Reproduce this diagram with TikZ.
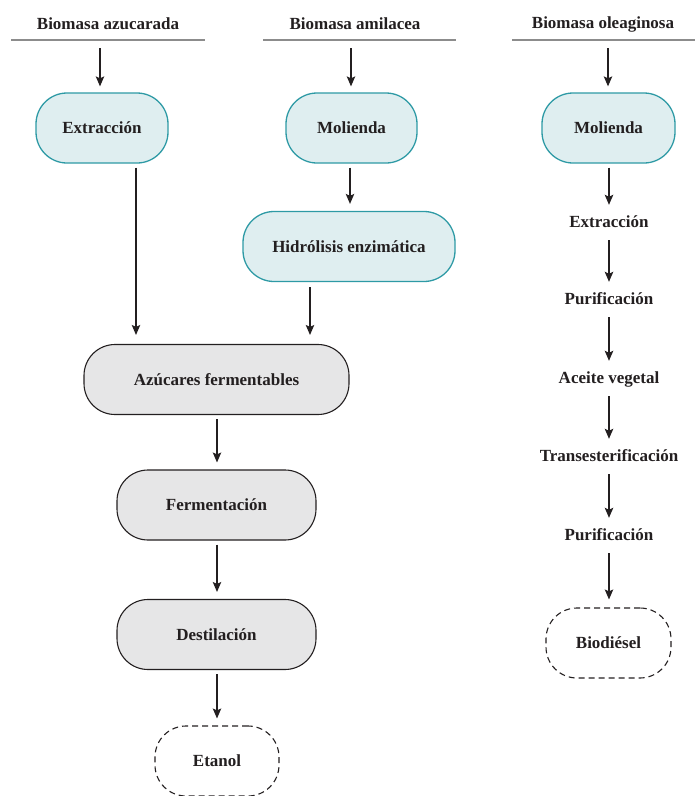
\documentclass[tikz,border=0pt]{standalone}
\usepackage{fontspec}
\setmainfont{Liberation Serif}
\usetikzlibrary{arrows.meta}
\definecolor{cyanfill}{HTML}{DFEEF0}
\definecolor{cyanedge}{HTML}{2E9AA5}
\definecolor{grayfill}{HTML}{E6E6E7}
\definecolor{ink}{HTML}{231F20}
\definecolor{rulegray}{HTML}{8C8C8C}
\tikzset{
  txt/.style={font=\fontsize{17}{19}\selectfont\bfseries, text=ink},
  cbox/.style={txt, draw=cyanedge, fill=cyanfill, line width=1.3pt, rounded corners=31pt, minimum height=70pt, inner sep=0pt},
  gbox/.style={txt, draw=ink, fill=grayfill, line width=1.1pt, rounded corners=31pt, minimum height=70pt, inner sep=0pt},
  dbox/.style={txt, draw=ink, line width=1.1pt, dash pattern=on 6pt off 4pt, rounded corners=31pt, minimum height=70pt, inner sep=0pt},
  plain/.style={txt, inner sep=0pt, text height=12pt, text depth=4pt},
  hrule/.style={draw=rulegray, line width=2pt},
  arr/.style={draw=ink, line width=1.2pt, -{Stealth[length=10pt,width=8.5pt,inset=2pt]}},
  outb/.style={shorten <=4pt},
  inb/.style={shorten >=7pt},
  outt/.style={shorten <=9pt},
  intt/.style={shorten >=10pt},
}
\begin{document}
\begin{tikzpicture}[x=1pt,y=-1pt]
\useasboundingbox (0,0) rectangle (695,796);
% headers
\node[txt] (h1) at (108,24) {Biomasa azucarada};
\node[txt] (h2) at (355,24) {Biomasa amilacea};
\node[txt] (h3) at (603,24) {Biomasa oleaginosa};
\coordinate (l1a) at (11,40); \coordinate (l1b) at (205,40);
\coordinate (l2a) at (263,40); \coordinate (l2b) at (456,40);
\coordinate (l3a) at (512,40); \coordinate (l3b) at (695,40);
\draw[hrule] (l1a) -- (l1b);
\draw[hrule] (l2a) -- (l2b);
\draw[hrule] (l3a) -- (l3b);
% boxes
\node[cbox, minimum width=132pt] (ext) at (102,128) {Extracción};
\node[cbox, minimum width=131pt] (mol) at (351.5,128) {Molienda};
\node[cbox, minimum width=212pt] (hid) at (349,246.5) {Hidrólisis enzimática};
\node[cbox, minimum width=133pt] (molr) at (608.5,128) {Molienda};
\node[gbox, minimum width=265pt] (azu) at (216.5,379.5) {Azúcares fermentables};
\node[gbox, minimum width=199pt] (fer) at (216.5,505) {Fermentación};
\node[gbox, minimum width=199pt] (des) at (216.5,634.5) {Destilación};
\node[dbox, minimum width=124pt] (eta) at (217,761) {Etanol};
% right column texts
\node[plain] (rext) at (609,223) {Extracción};
\node[plain] (rpu1) at (609,300) {Purificación};
\node[plain] (race) at (609,379) {Aceite vegetal};
\node[plain] (rtra) at (609,457) {Transesterificación};
\node[plain] (rpu2) at (609,536) {Purificación};
\node[dbox, minimum width=125pt] (bio) at (608.5,643) {Biodiésel};
% header arrows
\coordinate (s1) at (100,48);
\coordinate (s2) at (351,48);
\coordinate (s3) at (608,48);
\draw[arr, shorten >=6pt] (s1) -- (s1 |- ext.north);
\draw[arr, shorten >=6pt] (s2) -- (s2 |- mol.north);
\draw[arr, shorten >=6pt] (s3) -- (s3 |- molr.north);
% left/mid flows
\coordinate (c1) at (136,0);
\coordinate (c2) at (310,0);
\coordinate (c3) at (350,0);
\coordinate (c4) at (609,0);
\coordinate (c5) at (217,0);
\draw[arr, outb, shorten >=9pt] (c1 |- ext.south) -- (c1 |- azu.north);
\draw[arr, outb, inb] (c3 |- mol.south) -- (c3 |- hid.north);
\draw[arr, shorten <=5pt, shorten >=9pt] (c2 |- hid.south) -- (c2 |- azu.north);
\draw[arr, outb, inb] (c5 |- azu.south) -- (c5 |- fer.north);
\draw[arr, outb, inb] (c5 |- fer.south) -- (c5 |- des.north);
\draw[arr, outb, inb] (c5 |- des.south) -- (eta.north);
% right flow
\draw[arr, outb, intt] (c4 |- molr.south) -- (rext.north);
\draw[arr, outt, intt] (rext.south) -- (rpu1.north);
\draw[arr, outt, intt] (rpu1.south) -- (race.north);
\draw[arr, outt, intt] (race.south) -- (rtra.north);
\draw[arr, outt, intt] (rtra.south) -- (rpu2.north);
\draw[arr, outt, shorten >=8pt] (rpu2.south) -- (c4 |- bio.north);
\end{tikzpicture}
\end{document}
